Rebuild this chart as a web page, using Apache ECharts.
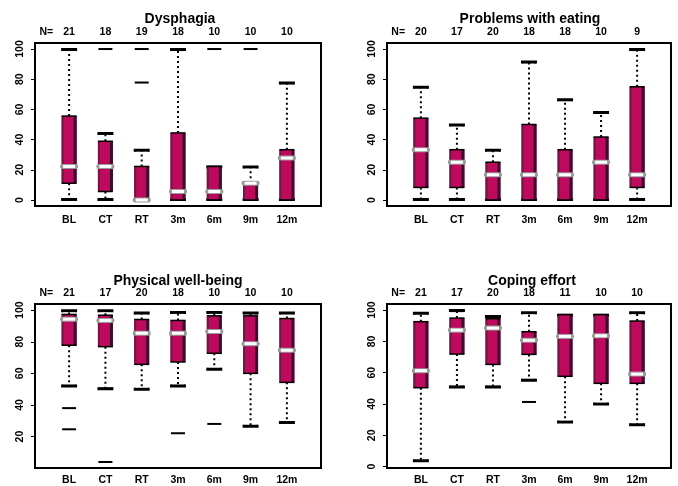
<!DOCTYPE html>
<html>
<head>
<meta charset="utf-8">
<script src="https://cdn.jsdelivr.net/npm/echarts@6/dist/echarts.min.js"></script>
<style>
html,body{margin:0;padding:0;background:#fff;}
#chart{width:678px;height:486px;}
</style>
</head>
<body>
<div id="chart"></div>
<script>
// ---- data ----
const categories = ['BL', 'CT', 'RT', '3m', '6m', '9m', '12m'];
const panelTitles = ['Dysphagia', 'Problems with eating', 'Physical well-being', 'Coping effort'];

const dysN    = [21, 18, 19, 18, 10, 10, 10];
const dysLow  = [0, 0, 0, 0, 0, 0, 0];
const dysQ1   = [11.1, 5.6, 0, 0, 0, 0, 0];
const dysMed  = [22.2, 22.2, 0, 5.6, 5.6, 11.1, 27.8];
const dysQ3   = [55.6, 38.9, 22.2, 44.4, 22.2, 11.1, 33.3];
const dysHigh = [100, 44.4, 33.3, 100, 22.2, 22.2, 77.8];
const dysOut  = [[2, 100], [3, 100], [3, 77.8], [5, 100], [6, 100]];

const eatN    = [20, 17, 20, 18, 18, 10, 9];
const eatLow  = [0, 0, 0, 0, 0, 0, 0];
const eatQ1   = [8.3, 8.3, 0, 0, 0, 0, 8.3];
const eatMed  = [33.3, 25, 16.7, 16.7, 16.7, 25, 16.7];
const eatQ3   = [54.2, 33.3, 25, 50, 33.3, 41.7, 75];
const eatHigh = [75, 50, 33.3, 91.7, 66.7, 58.3, 100];
const eatOut  = [];

const phyN    = [21, 17, 20, 18, 10, 10, 10];
const phyLow  = [51.7, 50, 49.6, 51.7, 62.3, 26.2, 28.6];
const phyQ1   = [77.8, 76.9, 65.7, 67.2, 72.7, 60, 54.3];
const phyMed  = [94.3, 93.5, 85.4, 85.4, 86.5, 78.8, 74.6];
const phyQ3   = [97.3, 96.8, 94.1, 93.5, 96.4, 96.4, 94.7];
const phyHigh = [100, 100, 98.5, 98.9, 98.9, 98.5, 98.5];
const phyOut  = [[1, 38], [1, 24.6], [2, 3.9], [4, 22.1], [5, 28]];

const copN    = [21, 17, 20, 18, 11, 10, 10];
const copLow  = [3.4, 50.6, 50.6, 54.9, 28.1, 39.6, 26.4];
const copQ1   = [50.4, 71.9, 65.3, 71.7, 57.7, 53.2, 53.2];
const copMed  = [61.3, 87.2, 88.5, 80.7, 83.2, 83.6, 59.1];
const copQ3   = [92.6, 94.9, 94.5, 86.2, 97.1, 97.1, 93];
const copHigh = [98.3, 100, 96.2, 98.7, 97.1, 97.1, 98.7];
const copOut  = [[4, 41.3]];

const yTicksFull = [0, 20, 40, 60, 80, 100];
const yTicksNoZero = [20, 40, 60, 80, 100];

// ---- layout ----
const panels = [
  {n: dysN, low: dysLow, q1: dysQ1, med: dysMed, q3: dysQ3, high: dysHigh, out: dysOut,
   grid: {left: 35, top: 43, width: 286, height: 163}, ymin: -4, ymax: 104, ticks: yTicksFull, titleX: 175, titleY: 7},
  {n: eatN, low: eatLow, q1: eatQ1, med: eatMed, q3: eatQ3, high: eatHigh, out: eatOut,
   grid: {left: 387, top: 43, width: 284, height: 163}, ymin: -4, ymax: 104, ticks: yTicksFull, titleX: 525, titleY: 7},
  {n: phyN, low: phyLow, q1: phyQ1, med: phyMed, q3: phyQ3, high: phyHigh, out: phyOut,
   grid: {left: 35, top: 304, width: 286, height: 165}, ymin: 0.1, ymax: 103.9, ticks: yTicksNoZero, titleX: 173, titleY: 269},
  {n: copN, low: copLow, q1: copQ1, med: copMed, q3: copQ3, high: copHigh, out: copOut,
   grid: {left: 387, top: 304, width: 284, height: 165}, ymin: -0.9, ymax: 103.9, ticks: yTicksFull, titleX: 527, titleY: 269}
];

const FONT = "'Liberation Sans', Arial, Helvetica, sans-serif";
const MAGENTA = '#be0a5d';

function renderBox(params, api) {
  const x = api.value(0);
  const low = api.value(1), q1 = api.value(2), med = api.value(3), q3 = api.value(4), high = api.value(5);
  const xc = api.coord([x, med])[0];
  const yLow = api.coord([x, low])[1];
  const yQ1 = api.coord([x, q1])[1];
  const yMed = api.coord([x, med])[1];
  const yQ3 = api.coord([x, q3])[1];
  const yHigh = api.coord([x, high])[1];
  const hw = 7.5;
  const cw = 7;
  const ch = [];
  const dotted = {stroke: '#000', lineWidth: 2, lineDash: [2, 3]};
  const solid = {stroke: '#000', lineWidth: 2};
  if (high > q3) {
    ch.push({type: 'line', shape: {x1: xc, y1: yQ3, x2: xc, y2: yHigh}, style: dotted});
  }
  if (low < q1) {
    ch.push({type: 'line', shape: {x1: xc, y1: yQ1, x2: xc, y2: yLow}, style: dotted});
  }
  // caps
  ch.push({type: 'polyline', shape: {points: [[xc - cw, yHigh + 2], [xc - cw, yHigh], [xc + cw, yHigh], [xc + cw, yHigh + 2]]}, style: solid});
  ch.push({type: 'polyline', shape: {points: [[xc - cw, yLow - 2], [xc - cw, yLow], [xc + cw, yLow], [xc + cw, yLow - 2]]}, style: solid});
  // box
  const top = Math.min(yQ1, yQ3), h = Math.abs(yQ1 - yQ3);
  ch.push({type: 'rect', shape: {x: xc - hw, y: top, width: 2 * hw, height: h}, style: {fill: MAGENTA}});
  ch.push({type: 'rect', shape: {x: xc - hw, y: top, width: 2, height: h}, style: {fill: '#6e1745'}});
  ch.push({type: 'rect', shape: {x: xc + hw - 3, y: top, width: 3, height: h}, style: {fill: '#3b0c2b'}});
  ch.push({type: 'line', shape: {x1: xc - hw, y1: yQ3, x2: xc + hw, y2: yQ3}, style: {stroke: '#000', lineWidth: 1.5}});
  ch.push({type: 'line', shape: {x1: xc - hw, y1: yQ1, x2: xc + hw, y2: yQ1}, style: {stroke: '#000', lineWidth: 1.5}});
  // median
  ch.push({type: 'rect', shape: {x: xc - hw - 1.5, y: yMed - 2.5, width: 2 * hw + 3, height: 5, r: 2}, style: {fill: '#9a9a9a'}});
  ch.push({type: 'rect', shape: {x: xc - hw + 1.5, y: yMed - 1.5, width: 2 * hw - 3, height: 3}, style: {fill: '#ffffff'}});
  return {type: 'group', children: ch};
}

function renderOut(params, api) {
  const p = api.coord([api.value(0), api.value(1)]);
  return {type: 'line', shape: {x1: p[0] - 7, y1: p[1], x2: p[0] + 7, y2: p[1]}, style: {stroke: '#000', lineWidth: 2}};
}

const option = {
  backgroundColor: '#fff',
  animation: false,
  title: [],
  grid: [],
  xAxis: [],
  yAxis: [],
  series: []
};

const labelStyle = {fontFamily: FONT, fontWeight: 'bold', fontSize: 10.5, color: '#000'};

panels.forEach((p, i) => {
  option.title.push({
    text: panelTitles[i], left: p.titleX, top: p.titleY, textAlign: 'center',
    textStyle: {fontFamily: FONT, fontWeight: 'bold', fontSize: 14, color: '#000'}
  });
  option.grid.push(Object.assign({show: true, borderColor: '#000', borderWidth: 2, backgroundColor: '#fff'}, p.grid));
  // bottom category labels
  option.xAxis.push({
    gridIndex: i, type: 'value', min: 0.06, max: 7.94, position: 'bottom',
    axisLine: {show: false}, axisTick: {show: false}, splitLine: {show: false},
    axisLabel: Object.assign({customValues: [1, 2, 3, 4, 5, 6, 7], margin: i < 2 ? 9 : 7,
      formatter: v => categories[Math.round(v) - 1]}, labelStyle)
  });
  // top N labels
  option.xAxis.push({
    gridIndex: i, type: 'value', min: 0.06, max: 7.94, position: 'top',
    axisLine: {show: false}, axisTick: {show: false}, splitLine: {show: false},
    axisLabel: Object.assign({customValues: [0.37, 1, 2, 3, 4, 5, 6, 7], margin: 5,
      formatter: v => v < 1 ? 'N=' : String(p.n[Math.round(v) - 1])}, labelStyle)
  });
  option.yAxis.push({
    gridIndex: i, type: 'value', min: p.ymin, max: p.ymax,
    axisLine: {show: false}, splitLine: {show: false},
    axisTick: {show: true, length: 4, customValues: p.ticks, lineStyle: {color: '#000', width: 1}},
    axisLabel: Object.assign({customValues: p.ticks, rotate: 90, margin: 9}, labelStyle)
  });
  const boxData = categories.map((c, k) => [k + 1, p.low[k], p.q1[k], p.med[k], p.q3[k], p.high[k]]);
  option.series.push({
    type: 'custom', xAxisIndex: 2 * i, yAxisIndex: i, renderItem: renderBox,
    data: boxData, encode: {x: 0, y: [1, 2, 3, 4, 5]}, clip: false, z: 3
  });
  option.series.push({
    type: 'custom', xAxisIndex: 2 * i, yAxisIndex: i, renderItem: renderOut,
    data: p.out, encode: {x: 0, y: 1}, clip: false, z: 3
  });
});

const chart = echarts.init(document.getElementById('chart'), null, {renderer: 'canvas'});
chart.setOption(option);
</script>
</body>
</html>
